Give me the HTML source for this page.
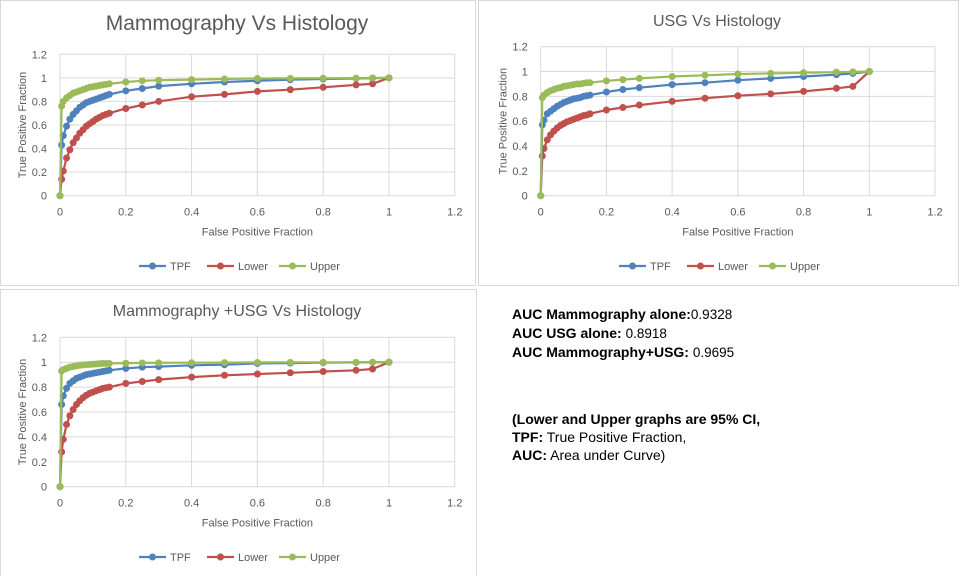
<!DOCTYPE html>
<html><head><meta charset="utf-8"><style>
body{margin:0;background:#fff;width:963px;height:576px;overflow:hidden;font-family:"Liberation Sans",Arial,sans-serif}
svg{position:absolute;left:0;top:0}
.txt{position:absolute;left:512px;font-size:14px;line-height:18px;color:#000}
.txt b{font-weight:bold}
.n{font-size:13.5px}
</style></head><body>
<svg id="svg" width="963" height="576"></svg>
<div class="txt" style="top:305px">
<div><b>AUC Mammography alone:</b><span class="n">0.9328</span></div>
<div><b>AUC USG alone:</b> <span class="n">0.8918</span></div>
<div><b>AUC Mammography+USG:</b> <span class="n">0.9695</span></div>
</div>
<div class="txt" style="top:410px">
<div><b>(Lower and Upper graphs are 95% CI,</b></div>
<div><b>TPF:</b> True Positive Fraction,</div>
<div><b>AUC:</b> Area under Curve)</div>
</div>
<script>
const fpr=[0,0.005,0.01,0.02,0.03,0.04,0.05,0.06,0.07,0.08,0.09,0.1,0.11,0.12,0.13,0.14,0.15,0.2,0.25,0.3,0.4,0.5,0.6,0.7,0.8,0.9,0.95,1];
const axisTicks=[0,0.2,0.4,0.6,0.8,1,1.2];
const seriesNames=["TPF","Lower","Upper"];
const mammoTPF=[0,0.43,0.51,0.59,0.65,0.69,0.72,0.75,0.77,0.79,0.8,0.81,0.82,0.83,0.84,0.85,0.86,0.89,0.91,0.93,0.95,0.965,0.975,0.985,0.99,0.995,0.998,1];
const mammoLower=[0,0.14,0.21,0.32,0.39,0.45,0.49,0.53,0.56,0.59,0.61,0.63,0.65,0.665,0.68,0.69,0.70,0.74,0.77,0.80,0.84,0.86,0.885,0.90,0.92,0.94,0.95,1];
const mammoUpper=[0,0.76,0.80,0.83,0.85,0.87,0.88,0.89,0.90,0.91,0.92,0.925,0.93,0.935,0.94,0.945,0.95,0.965,0.975,0.98,0.985,0.99,0.995,0.996,0.997,0.998,0.999,1];
const usgTPF=[0,0.57,0.61,0.66,0.68,0.70,0.72,0.735,0.75,0.76,0.77,0.78,0.785,0.79,0.80,0.805,0.81,0.835,0.855,0.87,0.895,0.91,0.93,0.945,0.96,0.975,0.985,1];
const usgLower=[0,0.32,0.38,0.45,0.49,0.52,0.545,0.565,0.58,0.595,0.605,0.615,0.625,0.635,0.645,0.65,0.66,0.69,0.71,0.73,0.76,0.785,0.805,0.82,0.84,0.865,0.88,1];
const usgUpper=[0,0.79,0.81,0.83,0.845,0.855,0.865,0.87,0.88,0.885,0.89,0.895,0.9,0.9,0.905,0.91,0.91,0.925,0.935,0.945,0.96,0.97,0.98,0.985,0.99,0.995,0.997,1];
const comboTPF=[0,0.66,0.73,0.79,0.83,0.85,0.87,0.88,0.89,0.90,0.905,0.91,0.915,0.92,0.925,0.93,0.935,0.95,0.96,0.965,0.975,0.98,0.99,0.993,0.996,0.998,0.999,1];
const comboLower=[0,0.28,0.38,0.50,0.57,0.62,0.66,0.69,0.715,0.735,0.75,0.76,0.77,0.78,0.79,0.795,0.80,0.83,0.845,0.86,0.88,0.895,0.905,0.915,0.925,0.935,0.945,1];
const comboUpper=[0,0.93,0.94,0.95,0.96,0.965,0.97,0.975,0.978,0.98,0.982,0.984,0.986,0.988,0.99,0.99,0.99,0.992,0.994,0.995,0.996,0.997,0.998,0.999,0.999,0.999,1,1];

const NS="http://www.w3.org/2000/svg";
const svg=document.getElementById('svg');
const colors=["#4f81bd","#c0504d","#9bbb59"];
function mk(tag,attrs,parent){const e=document.createElementNS(NS,tag);for(const k in attrs)e.setAttribute(k,attrs[k]);(parent||svg).appendChild(e);return e;}

function chart(cfg){
  const g=mk('g',{});
  
  
  const pb=mk('rect',{x:cfg.box[0]+0.5,y:cfg.box[1]+0.5,width:cfg.box[2],height:cfg.box[3],fill:'none',stroke:'#d9d9d9'},g);
  
  
  const X=v=>cfg.x0+v*(cfg.x1-cfg.x0);
  const Y=v=>cfg.y0-v*(cfg.y0-cfg.yTop)/1.2;
  const t=mk('text',{x:cfg.tx,y:cfg.ty,'text-anchor':'middle','font-size':cfg.tfs,fill:'#595959','font-family':'Liberation Sans, sans-serif'},g);
  t.textContent=cfg.title;
  
  
  axisTicks.forEach(v=>{
    const gl=mk('line',{x1:X(0),x2:X(1.2),y1:Y(v),y2:Y(v),stroke:'#d9d9d9','stroke-width':1},g);
    
    
    const gv=mk('line',{x1:X(v),x2:X(v),y1:Y(0),y2:Y(1.2),stroke:'#d9d9d9','stroke-width':1},g);
    
    
    const yl=mk('text',{x:X(0)-13,y:Y(v)+4,'text-anchor':'end','font-size':11,fill:'#595959'},g);
    yl.textContent=String(v);
    
    
    const xl=mk('text',{x:X(v),y:Y(0)+20,'text-anchor':'middle','font-size':11,fill:'#595959'},g);
    xl.textContent=String(v);
    
    
  });
  const xt=mk('text',{x:X(0.6),y:Y(0)+40,'text-anchor':'middle','font-size':11,fill:'#595959'},g);
  xt.textContent='False Positive Fraction';
  
  
  const ym=(Y(0)+Y(1.2))/2;
  const yx=cfg.x0-34;
  const yt=mk('text',{x:yx,y:ym,'text-anchor':'middle','font-size':11,fill:'#595959',transform:`rotate(-90 ${yx} ${ym})`},g);
  yt.textContent='True Positive Fraction';
  
  
  [1,0,2].forEach(si=>{
    const vals=cfg.series[si];
    const pts=fpr.map((f,i)=>X(f).toFixed(1)+','+Y(vals[i]).toFixed(1)).join(' ');
    const pl=mk('polyline',{points:pts,fill:'none',stroke:colors[si],'stroke-width':2.2},g);
    
    
    fpr.forEach((f,i)=>{
      const c=mk('circle',{cx:X(f),cy:Y(vals[i]),r:3.5,fill:colors[si]},g);
      
      
    });
  });
  const lx=[cfg.lx,cfg.lx+68,cfg.lx+140];
  seriesNames.forEach((n,i)=>{
    const lg=mk('g',{},g);
    
    
    mk('line',{x1:lx[i],x2:lx[i]+27,y1:cfg.ly,y2:cfg.ly,stroke:colors[i],'stroke-width':2.2},lg);
    mk('circle',{cx:lx[i]+13.5,cy:cfg.ly,r:3.5,fill:colors[i]},lg);
    const tx=mk('text',{x:lx[i]+31,y:cfg.ly+4,'font-size':11,fill:'#595959'},lg);
    tx.textContent=n;
  });
}
chart({name:'chart-mammography',title:'Mammography Vs Histology',tx:237,ty:30,tfs:21,box:[0,0,475,285],x0:60,x1:389,y0:195.7,yTop:54.3,lx:139,ly:266,series:[mammoTPF,mammoLower,mammoUpper]});
chart({name:'chart-usg',title:'USG Vs Histology',tx:717,ty:26,tfs:16,box:[478,0,480,285],x0:540.7,x1:869.3,y0:195.7,yTop:46.7,lx:619,ly:266,series:[usgTPF,usgLower,usgUpper]});
chart({name:'chart-combined',title:'Mammography +USG Vs Histology',tx:237,ty:316,tfs:16,box:[0,289,476,290],x0:60,x1:389,y0:486.7,yTop:337.3,lx:139,ly:557,series:[comboTPF,comboLower,comboUpper]});
</script>
</body></html>
